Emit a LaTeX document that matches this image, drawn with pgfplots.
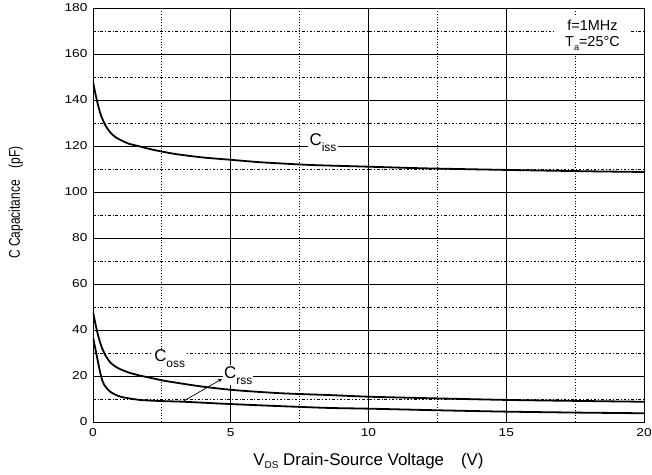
\documentclass[border=0pt]{standalone}
\usepackage{fontspec}
\setmainfont{Liberation Sans}
\newfontfamily\tickfont{Liberation Sans}[FakeStretch=1.2]
\usepackage{pgfplots}
\pgfplotsset{compat=1.18}

% capacitance label: big C with lowered small subscript
\newcommand{\capl}[1]{{\fontsize{17}{17}\selectfont C}\raisebox{-6bp}{\fontsize{12}{12}\selectfont #1}}

\begin{document}
\begin{tikzpicture}
\useasboundingbox (-93bp,-53bp) rectangle (559bp,422bp);
\begin{axis}[
  at={(0,0)}, anchor=origin,
  scale only axis,
  width=551bp, height=414bp,
  xmin=0, xmax=20, ymin=0, ymax=180,
  xtick={0,5,10,15,20},
  ytick={0,20,...,180},
  tick style={draw=none},
  axis line style={black, line width=0.8pt},
  grid=major,
  major grid style={black, line width=0.7pt},
  extra x ticks={2.5,7.5,12.5,17.5},
  extra x tick labels={},
  extra x tick style={grid=major, major grid style={black, line width=0.9pt, dash pattern=on 1pt off 1.8pt}},
  extra y ticks={10,30,...,170},
  extra y tick labels={},
  extra y tick style={grid=major, major grid style={black, line width=0.7pt, dash pattern=on 2.6pt off 2pt on 0.9pt off 2pt}},
  /pgf/number format/assume math mode=true,
  ticklabel style={font=\tickfont\fontsize{11.5}{12}\selectfont},
  xticklabel style={yshift=-3bp},
  yticklabel style={xshift=-2bp},
  xlabel={V\raisebox{-3.5bp}{\fontsize{10}{10}\selectfont DS} Drain-Source Voltage\quad(V)},
  xlabel style={font=\fontsize{17}{17}\selectfont, at={(axis description cs:0.5,-0.104)}, anchor=base},
  ylabel={\scalebox{1}[1.3]{C Capacitance\quad(pF)}},
  ylabel style={font=\fontsize{12}{12}\selectfont, at={(axis description cs:-0.14,0.53)}, anchor=center},
]
% Ciss
\addplot[black, line width=1.8bp, smooth, tension=0.4] coordinates {
(0,148) (0.1,142) (0.2,137) (0.3,133) (0.45,129) (0.62,126) (0.8,124)
(1.0,122.6) (1.3,121) (1.7,119.8) (2.2,118.3) (3,116.5) (4,115) (5,114)
(6,113) (7,112.3) (8,111.7) (10,111) (12,110.3) (15,109.6) (18,109) (20,108.7)
};
% Coss
\addplot[black, line width=1.8bp, smooth, tension=0.4] coordinates {
(0,48) (0.1,42) (0.2,37) (0.3,33) (0.45,29) (0.62,26) (0.8,24.2)
(1.0,22.9) (1.3,21.5) (1.7,20.2) (2.2,18.9) (2.7,17.7) (3.9,15.5) (5,14)
(6,13.1) (7,12.4) (8.6,11.7) (10,11) (12,10.4) (15,9.6) (18,9.1) (20,8.8)
};
% Crss
\addplot[black, line width=1.8bp, smooth, tension=0.4] coordinates {
(0,37) (0.1,31) (0.2,25) (0.3,19.5) (0.4,16.3) (0.62,13.2) (1,11)
(1.7,9.6) (2.5,9.1) (3.3,8.8) (5,7.8) (7,6.8) (8.6,6.1) (10,5.8)
(12.5,5.1) (15,4.5) (17.5,4.1) (20,3.8)
};
\draw[-stealth, black, line width=0.7bp] (axis cs:3.27,9.0) -- (axis cs:4.68,18.7);
\node[anchor=base west, fill=white, inner sep=1.5bp] at (axis cs:7.8,120) {\capl{iss}};
\node[anchor=base west, fill=white, inner sep=1bp] at (axis cs:2.18,26.1) {\capl{oss}};
\node[anchor=base west, fill=white, inner sep=1bp] at (axis cs:4.72,19.1) {\capl{rss}};
\node[fill=white, inner xsep=10bp, inner ysep=3bp, align=center, font=\fontsize{14.5}{16}\selectfont, anchor=north]
  at (axis cs:18.13,176) {f=1MHz\\T\raisebox{-4bp}{\fontsize{9}{9}\selectfont a}=25°C};
\end{axis}
\end{tikzpicture}
\end{document}
